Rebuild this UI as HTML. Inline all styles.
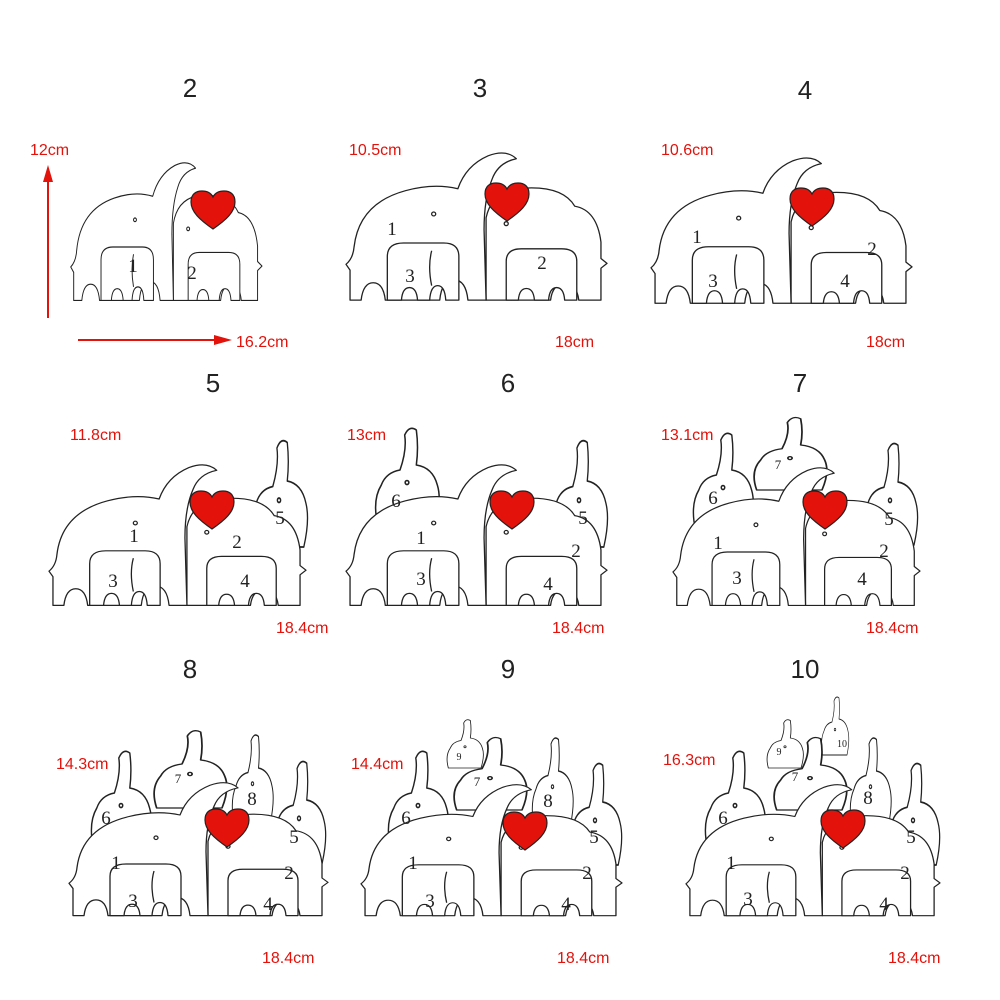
<!DOCTYPE html>
<html><head><meta charset="utf-8"><style>
html,body{margin:0;padding:0;background:#fff;overflow:hidden}
svg{display:block}
.t{font-family:"Liberation Sans",sans-serif;font-size:26px;fill:#222;text-anchor:middle}
.r{font-family:"Liberation Sans",sans-serif;font-size:16px;fill:#e3120b}
.n{font-family:"Liberation Serif",serif;font-size:19px;fill:#222;text-anchor:middle}
.s{font-family:"Liberation Serif",serif;font-size:10px;fill:#222;text-anchor:middle}
.o{fill:#fff;stroke:#222;stroke-width:1.3;stroke-linejoin:round}
.l{fill:none;stroke:#222;stroke-width:1.3}
</style></head><body>
<svg width="1000" height="1000" viewBox="0 0 1000 1000" xmlns="http://www.w3.org/2000/svg">
<defs>
<symbol id="fam" viewBox="0 0 260 160" preserveAspectRatio="none" overflow="visible">
 <path class="o" d="M140,155 L140,70 Q145,45 170,40 Q215,35 228,58 Q250,62 254,95 L254,112 L260,117 L254,122 L254,155 L232,155 Q230,138 218,138 Q206,138 204,155 Z"/>
 <path class="o" d="M5,155 L5,124 L1,118 Q8,112 9,100 Q14,55 60,42 Q88,34 112,40 Q120,16 142,6 Q160,-1 170,9 Q152,13 146,30 Q138,50 138,82 L140,155 L122,155 Q120,134 108,134 Q96,134 94,155 L40,155 Q38,137 28,137 Q18,137 16,155 Z"/>
 <circle cx="88" cy="66" r="2" class="o"/>
 <path class="o" d="M42,155 L42,110 Q42,96 58,96 L98,96 Q113,96 113,110 L113,155 L100,155 Q99,140 92,140 Q85,140 84,155 L72,155 Q71,142 64,142 Q57,142 56,155 Z"/>
 <path class="l" d="M86,104 Q82,120 86,140"/>
 <path class="o" d="M160,155 L160,115 Q160,102 175,102 L215,102 Q230,102 230,115 L230,155 L218,155 Q217,142 210,142 Q203,142 202,155 L188,155 Q187,143 180,143 Q173,143 172,155 Z"/>
 <circle cx="160" cy="76" r="2" class="o"/>
</symbol>
<symbol id="head" viewBox="0 0 60 80" preserveAspectRatio="none" overflow="visible">
 <path class="o" d="M5,80 Q0,60 8,48 Q12,38 24,36 Q30,20 28,8 Q32,0 38,4 Q40,18 38,32 Q52,34 56,48 Q60,60 54,80 Z"/>
 <circle cx="30" cy="46" r="1.6" class="o"/>
</symbol>
<symbol id="heart" viewBox="0 0 46 40">
 <path d="M23,39 C10,30 1,22 1,12 C1,4 6,1 12,1 C17,1 21,3 23,7 C25,3 29,1 34,1 C40,1 45,4 45,12 C45,22 36,30 23,39 Z" fill="#e3120b" stroke="#222" stroke-width="1.2"/>
</symbol>
</defs>

<text class="t" x="190" y="97">2</text><text class="t" x="480" y="97">3</text><text class="t" x="805" y="99">4</text>
<text class="t" x="213" y="392">5</text><text class="t" x="508" y="392">6</text><text class="t" x="800" y="392">7</text>
<text class="t" x="190" y="678">8</text><text class="t" x="508" y="678">9</text><text class="t" x="805" y="678">10</text>

<line x1="48" y1="318" x2="48" y2="178" stroke="#e3120b" stroke-width="2"/>
<polygon points="48,165 43,182 53,182" fill="#e3120b"/>
<line x1="78" y1="340" x2="218" y2="340" stroke="#e3120b" stroke-width="2"/>
<polygon points="232,340 214,335 214,345" fill="#e3120b"/>

<use href="#fam" x="70" y="160" width="192" height="145"/>
<use href="#heart" x="190" y="190" width="46" height="40"/>
<text class="n" x="133" y="272">1</text><text class="n" x="192" y="279">2</text>

<use href="#fam" x="345" y="150" width="262" height="155"/>
<use href="#heart" x="484" y="182" width="46" height="40"/>
<text class="n" x="392" y="235">1</text><text class="n" x="410" y="282">3</text><text class="n" x="542" y="269">2</text>

<use href="#fam" x="650" y="155" width="262" height="153"/>
<use href="#heart" x="789" y="187" width="46" height="40"/>
<text class="n" x="697" y="243">1</text><text class="n" x="713" y="287">3</text><text class="n" x="872" y="255">2</text><text class="n" x="845" y="287">4</text>

<use href="#head" x="248" y="437" width="62" height="110"/>
<use href="#fam" x="48" y="462" width="258" height="148"/>
<use href="#heart" x="189" y="490" width="46" height="40"/>
<text class="n" x="134" y="542">1</text><text class="n" x="113" y="587">3</text><text class="n" x="237" y="548">2</text><text class="n" x="245" y="587">4</text><text class="n" x="280" y="524">5</text>

<use href="#head" x="372" y="425" width="70" height="100"/>
<use href="#head" x="548" y="437" width="62" height="110"/>
<use href="#fam" x="345" y="462" width="262" height="148"/>
<use href="#heart" x="489" y="490" width="46" height="40"/>
<text class="n" x="396" y="507">6</text><text class="n" x="421" y="544">1</text><text class="n" x="421" y="585">3</text><text class="n" x="576" y="557">2</text><text class="n" x="548" y="590">4</text><text class="n" x="583" y="524">5</text>

<use href="#head" x="750" y="415" width="80" height="75"/>
<use href="#head" x="690" y="430" width="66" height="100"/>
<use href="#head" x="860" y="440" width="60" height="105"/>
<use href="#fam" x="672" y="465" width="248" height="145"/>
<use href="#heart" x="802" y="490" width="46" height="40"/>
<text class="n" x="778" y="469" style="font-size:13px">7</text><text class="n" x="713" y="504">6</text><text class="n" x="718" y="549">1</text><text class="n" x="737" y="584">3</text><text class="n" x="884" y="557">2</text><text class="n" x="862" y="585">4</text><text class="n" x="889" y="525">5</text>

<use href="#head" x="150" y="728" width="80" height="80"/>
<use href="#head" x="230" y="732" width="45" height="90"/>
<use href="#head" x="88" y="748" width="66" height="100"/>
<use href="#head" x="270" y="758" width="58" height="105"/>
<use href="#fam" x="68" y="780" width="260" height="140"/>
<use href="#heart" x="204" y="808" width="46" height="40"/>
<text class="n" x="178" y="783" style="font-size:13px">7</text><text class="n" x="106" y="824">6</text><text class="n" x="252" y="805">8</text><text class="n" x="294" y="843">5</text><text class="n" x="116" y="869">1</text><text class="n" x="133" y="907">3</text><text class="n" x="289" y="879">2</text><text class="n" x="268" y="910">4</text>

<use href="#head" x="445" y="718" width="40" height="50"/>
<use href="#head" x="450" y="735" width="80" height="75"/>
<use href="#head" x="530" y="735" width="45" height="90"/>
<use href="#head" x="385" y="748" width="66" height="100"/>
<use href="#head" x="566" y="760" width="58" height="105"/>
<use href="#fam" x="360" y="782" width="262" height="138"/>
<use href="#heart" x="502" y="811" width="46" height="40"/>
<text class="s" x="459" y="760">9</text><text class="n" x="477" y="786" style="font-size:13px">7</text><text class="n" x="406" y="824">6</text><text class="n" x="548" y="807">8</text><text class="n" x="594" y="843">5</text><text class="n" x="413" y="869">1</text><text class="n" x="430" y="907">3</text><text class="n" x="587" y="879">2</text><text class="n" x="566" y="910">4</text>

<use href="#head" x="820" y="695" width="30" height="60"/>
<use href="#head" x="765" y="718" width="40" height="50"/>
<use href="#head" x="770" y="735" width="80" height="75"/>
<use href="#head" x="848" y="735" width="45" height="90"/>
<use href="#head" x="702" y="748" width="66" height="100"/>
<use href="#head" x="884" y="760" width="58" height="105"/>
<use href="#fam" x="685" y="782" width="255" height="138"/>
<use href="#heart" x="820" y="809" width="46" height="40"/>
<text class="s" x="779" y="755">9</text><text class="s" x="842" y="747">10</text><text class="n" x="795" y="781" style="font-size:13px">7</text><text class="n" x="723" y="824">6</text><text class="n" x="868" y="804">8</text><text class="n" x="911" y="843">5</text><text class="n" x="731" y="869">1</text><text class="n" x="748" y="905">3</text><text class="n" x="905" y="879">2</text><text class="n" x="884" y="910">4</text>

<text class="r" x="30" y="155">12cm</text><text class="r" x="236" y="347">16.2cm</text>
<text class="r" x="349" y="155">10.5cm</text><text class="r" x="555" y="347">18cm</text>
<text class="r" x="661" y="155">10.6cm</text><text class="r" x="866" y="347">18cm</text>
<text class="r" x="70" y="440">11.8cm</text><text class="r" x="276" y="633">18.4cm</text>
<text class="r" x="347" y="440">13cm</text><text class="r" x="552" y="633">18.4cm</text>
<text class="r" x="661" y="440">13.1cm</text><text class="r" x="866" y="633">18.4cm</text>
<text class="r" x="56" y="769">14.3cm</text><text class="r" x="262" y="963">18.4cm</text>
<text class="r" x="351" y="769">14.4cm</text><text class="r" x="557" y="963">18.4cm</text>
<text class="r" x="663" y="765">16.3cm</text><text class="r" x="888" y="963">18.4cm</text>
</svg>
</body></html>
